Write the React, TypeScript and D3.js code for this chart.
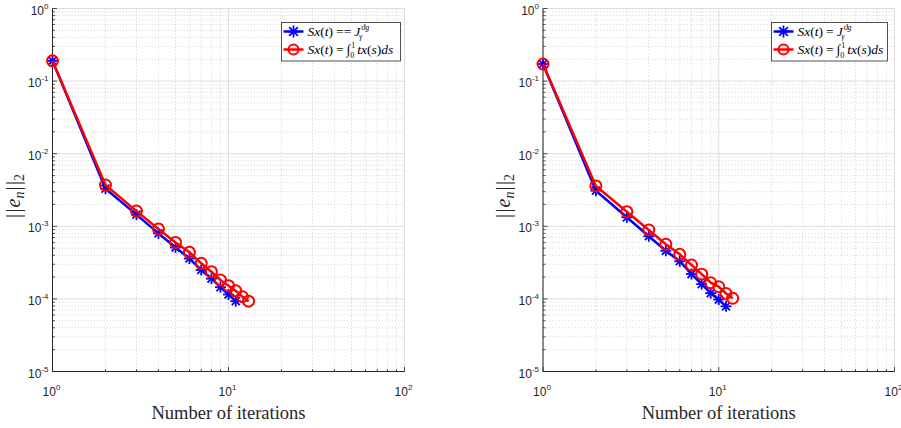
import React from "react";
import * as d3 from "d3";

// Iteration counts and error norms for each panel
const leftStarIter = [1, 2, 3, 4, 5, 6, 7, 8, 9, 10, 11];
const leftStarErr = [0.19, 3.3e-3, 1.45e-3, 8.0e-4, 5.1e-4, 3.6e-4, 2.5e-4, 1.9e-4, 1.45e-4, 1.15e-4, 9.3e-5];
const leftCircIter = [1, 2, 3, 4, 5, 6, 7, 8, 9, 10, 11, 12, 13];
const leftCircErr = [0.19, 3.7e-3, 1.62e-3, 9.2e-4, 6.0e-4, 4.38e-4, 3.09e-4, 2.37e-4, 1.82e-4, 1.52e-4, 1.29e-4, 1.07e-4, 9.3e-5];

const rightStarIter = [1, 2, 3, 4, 5, 6, 7, 8, 9, 10, 11];
const rightStarErr = [0.172, 3.1e-3, 1.33e-3, 7.3e-4, 4.6e-4, 3.3e-4, 2.2e-4, 1.6e-4, 1.2e-4, 9.8e-5, 7.9e-5];
const rightCircIter = [1, 2, 3, 4, 5, 6, 7, 8, 9, 10, 11, 12];
const rightCircErr = [0.172, 3.6e-3, 1.59e-3, 8.9e-4, 5.65e-4, 4.11e-4, 2.93e-4, 2.19e-4, 1.67e-4, 1.47e-4, 1.19e-4, 1.02e-4];

const xDecades = [0, 1, 2];
const yDecades = [0, -1, -2, -3, -4, -5];
const xLabel = "Number of iterations";

const BLUE = "#0000ff";
const RED = "#ff0000";
const AXIS = "#262626";
const TICK_FONT = "Liberation Sans, Arial, sans-serif";
const SERIF = "Liberation Serif, DejaVu Serif, serif";

type PanelProps = {
  x0: number;
  x1: number;
  starIter: number[];
  starErr: number[];
  circIter: number[];
  circErr: number[];
  legendX: number;
  legendW: number;
  doubleEq: boolean;
};

function Star({ cx, cy, r }: { cx: number; cy: number; r: number }) {
  const d = r * 0.72;
  return (
    <g stroke={BLUE} strokeWidth={1.8} strokeLinecap="butt">
      <line x1={cx - r} y1={cy} x2={cx + r} y2={cy} />
      <line x1={cx} y1={cy - r} x2={cx} y2={cy + r} />
      <line x1={cx - d} y1={cy - d} x2={cx + d} y2={cy + d} />
      <line x1={cx - d} y1={cy + d} x2={cx + d} y2={cy - d} />
    </g>
  );
}

function Panel(p: PanelProps) {
  const top = 8.5;
  const bottom = 371.5;
  const x = d3.scaleLog().domain([1, 100]).range([p.x0, p.x1]);
  const y = d3.scaleLog().domain([1e-5, 1]).range([bottom, top]);

  const xMinor: number[] = [];
  for (const dec of [1, 10]) for (let k = 2; k <= 9; k++) xMinor.push(k * dec);
  const yMinor: number[] = [];
  for (let e = -5; e < 0; e++) for (let k = 2; k <= 9; k++) yMinor.push(k * Math.pow(10, e));

  const line = d3
    .line<[number, number]>()
    .x((d) => x(d[0]))
    .y((d) => y(d[1]));
  const starPts: [number, number][] = p.starIter.map((v, i) => [v, p.starErr[i]]);
  const circPts: [number, number][] = p.circIter.map((v, i) => [v, p.circErr[i]]);

  const lx = p.legendX;
  const ly = 22.5;
  const lw = p.legendW;
  const lh = 38.5;
  const row1 = ly + 9;
  const row2 = ly + 27;

  return (
    <g>
      {/* minor grid */}
      {xMinor.map((v) => (
        <line key={"xm" + v} x1={x(v)} x2={x(v)} y1={top} y2={bottom} stroke="#c8c8c8" strokeWidth={0.8} strokeDasharray="1,2.2" />
      ))}
      {yMinor.map((v) => (
        <line key={"ym" + v} x1={p.x0} x2={p.x1} y1={y(v)} y2={y(v)} stroke="#c8c8c8" strokeWidth={0.8} strokeDasharray="1,2.2" />
      ))}
      {/* major grid */}
      {xDecades.map((e) => (
        <line key={"xg" + e} x1={x(Math.pow(10, e))} x2={x(Math.pow(10, e))} y1={top} y2={bottom} stroke="#dcdcdc" strokeWidth={1} />
      ))}
      {yDecades.map((e) => (
        <line key={"yg" + e} x1={p.x0} x2={p.x1} y1={y(Math.pow(10, e))} y2={y(Math.pow(10, e))} stroke="#dcdcdc" strokeWidth={1} />
      ))}

      {/* ticks */}
      {yMinor.map((v) => (
        <line key={"ymt" + v} x1={p.x0} x2={p.x0 + 2.5} y1={y(v)} y2={y(v)} stroke={AXIS} strokeWidth={0.8} />
      ))}
      {yDecades.map((e) => (
        <line key={"ymj" + e} x1={p.x0} x2={p.x0 + 4.5} y1={y(Math.pow(10, e))} y2={y(Math.pow(10, e))} stroke={AXIS} strokeWidth={0.8} />
      ))}
      {xMinor.map((v) => (
        <line key={"xmt" + v} x1={x(v)} x2={x(v)} y1={bottom} y2={bottom - 2.5} stroke={AXIS} strokeWidth={0.8} />
      ))}
      {xDecades.map((e) => (
        <line key={"xmj" + e} x1={x(Math.pow(10, e))} x2={x(Math.pow(10, e))} y1={bottom} y2={bottom - 4.5} stroke={AXIS} strokeWidth={0.8} />
      ))}

      {/* axis lines */}
      <line x1={p.x0} x2={p.x0} y1={top} y2={bottom} stroke={AXIS} strokeWidth={1} />
      <line x1={p.x0} x2={p.x1} y1={bottom} y2={bottom} stroke={AXIS} strokeWidth={1} />

      {/* tick labels */}
      {yDecades.map((e) => (
        <text key={"yl" + e} x={p.x0 - 4} y={y(Math.pow(10, e)) + 6} textAnchor="end" fontFamily={TICK_FONT} fontSize={12} fill={AXIS}>
          10
          <tspan fontSize={8} dy={-6}>{String(e)}</tspan>
        </text>
      ))}
      {xDecades.map((e) => (
        <text key={"xl" + e} x={x(Math.pow(10, e)) - 1} y={bottom + 24} textAnchor="middle" fontFamily={TICK_FONT} fontSize={12} fill={AXIS}>
          10
          <tspan fontSize={8} dy={-6}>{String(e)}</tspan>
        </text>
      ))}

      {/* axis titles */}
      <text x={(p.x0 + p.x1) / 2} y={419} textAnchor="middle" fontFamily={SERIF} fontSize={18.5} fill={AXIS}>
        {xLabel}
      </text>
      <text transform={`translate(${p.x0 - 33},196) rotate(-90)`} textAnchor="middle" fontFamily={SERIF} fontSize={20} fill={AXIS}>
        |<tspan dx={1.5}>|</tspan>
        <tspan fontStyle="italic" dx={1}>e</tspan>
        <tspan fontStyle="italic" fontSize={14} dy={4}>n</tspan>
        <tspan dy={-4} dx={1}>|</tspan>
        <tspan dx={1.5}>|</tspan>
        <tspan fontSize={14} dy={4}>2</tspan>
      </text>

      {/* series */}
      <path d={line(starPts) || ""} fill="none" stroke={BLUE} strokeWidth={2.5} />
      {starPts.map((d, i) => (
        <Star key={"s" + i} cx={x(d[0])} cy={y(d[1])} r={5.5} />
      ))}
      <path d={line(circPts) || ""} fill="none" stroke={RED} strokeWidth={2.5} />
      {circPts.map((d, i) => (
        <circle key={"c" + i} cx={x(d[0])} cy={y(d[1])} r={5.5} fill="none" stroke={RED} strokeWidth={2} />
      ))}

      {/* legend */}
      <rect x={lx} y={ly} width={lw} height={lh} fill="#ffffff" stroke={AXIS} strokeWidth={0.8} />
      <line x1={lx + 2} x2={lx + 22} y1={row1} y2={row1} stroke={BLUE} strokeWidth={2.5} />
      <Star cx={lx + 12} cy={row1} r={6} />
      <line x1={lx + 2} x2={lx + 22} y1={row2} y2={row2} stroke={RED} strokeWidth={2.5} />
      <circle cx={lx + 12} cy={row2} r={5} fill="none" stroke={RED} strokeWidth={2} />
      <text x={lx + 26} y={row1 + 4.5} fontFamily={SERIF} fontStyle="italic" fontSize={13.5} fill="#000">
        Sx
        <tspan fontStyle="normal">(</tspan>t<tspan fontStyle="normal">)</tspan>
        <tspan fontStyle="normal" dx={3}>{p.doubleEq ? "==" : "="}</tspan>
        <tspan dx={3}>J</tspan>
        <tspan fontSize={8} dx={1} dy={-6}>ϑg</tspan>
        <tspan fontSize={7.5} dx={-10} dy={9}>γ</tspan>
      </text>
      <text x={lx + 26} y={row2 + 4.5} fontFamily={SERIF} fontStyle="italic" fontSize={13.5} fill="#000">
        Sx
        <tspan fontStyle="normal">(</tspan>t<tspan fontStyle="normal">)</tspan>
        <tspan fontStyle="normal" dx={3}>=</tspan>
        <tspan fontStyle="normal" dx={3}>∫</tspan>
        <tspan fontStyle="normal" fontSize={8} dx={1} dy={-6}>1</tspan>
        <tspan fontStyle="normal" fontSize={8} dx={-5} dy={10}>0</tspan>
        <tspan dx={3} dy={-4}>tx</tspan>
        <tspan fontStyle="normal">(</tspan>s<tspan fontStyle="normal">)</tspan>ds
      </text>
    </g>
  );
}

export default function App() {
  return (
    <svg width={901} height={428} style={{ position: "absolute", left: 0, top: 0, background: "#ffffff" }}>
      <rect width={901} height={428} fill="#ffffff" />
      <Panel
        x0={52.5}
        x1={404.5}
        starIter={leftStarIter}
        starErr={leftStarErr}
        circIter={leftCircIter}
        circErr={leftCircErr}
        legendX={281.5}
        legendW={119}
        doubleEq={true}
      />
      <Panel
        x0={543}
        x1={894.5}
        starIter={rightStarIter}
        starErr={rightStarErr}
        circIter={rightCircIter}
        circErr={rightCircErr}
        legendX={771.5}
        legendW={116}
        doubleEq={false}
      />
    </svg>
  );
}
